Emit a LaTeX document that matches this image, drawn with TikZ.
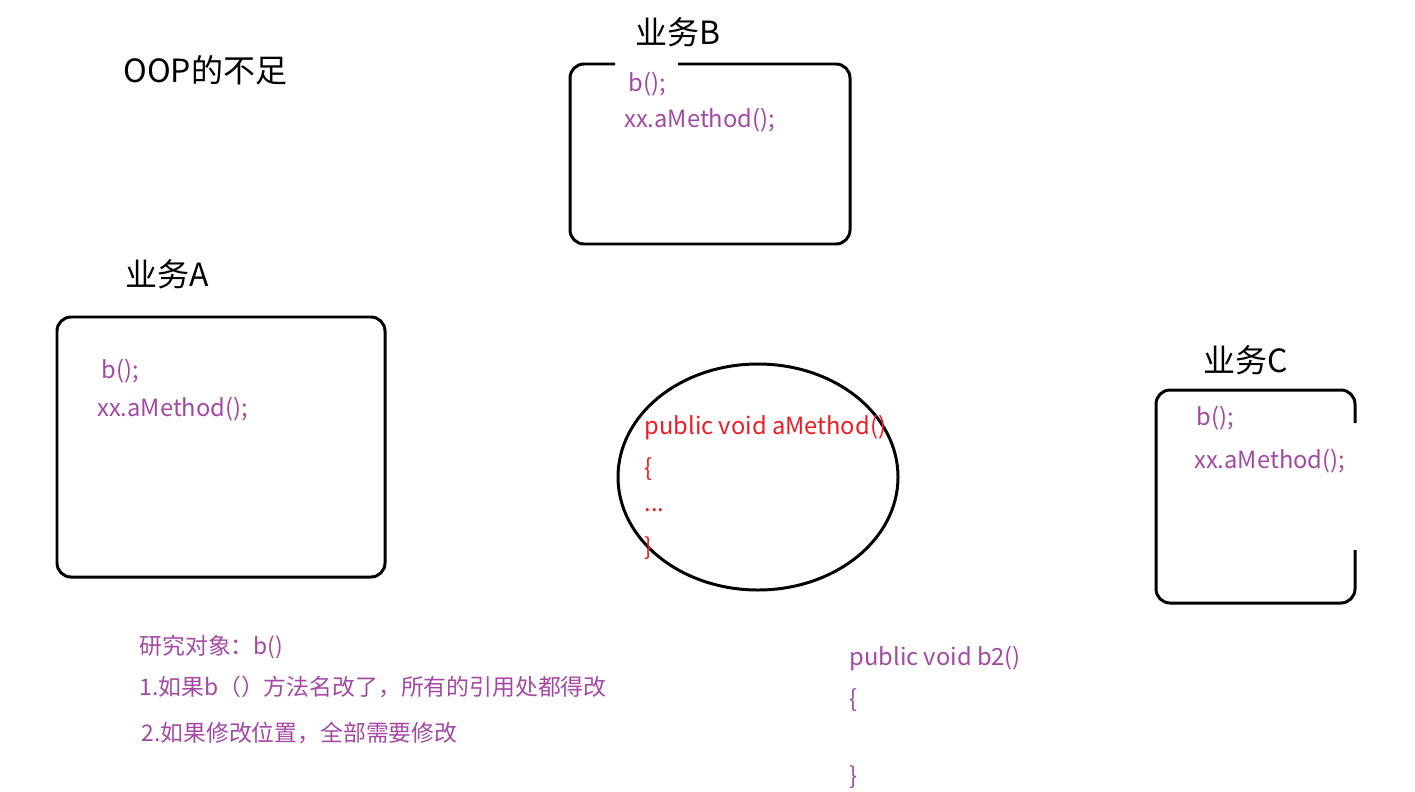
\documentclass[tikz,border=0pt]{standalone}
\usepackage{fontspec}
\setmainfont{Noto Sans CJK SC}
\usepackage{xcolor}
\definecolor{codepurple}{HTML}{A349A4}
\definecolor{codered}{HTML}{ED1C24}
\usetikzlibrary{positioning}

\begin{document}
\begin{tikzpicture}[x=0.02cm,y=-0.02cm,line width=1.7pt]
  \tikzstyle{title}=[anchor=west,inner sep=0pt,font=\fontsize{18.2}{20}\selectfont,text=black]
  \tikzstyle{note}=[anchor=west,inner sep=0pt,font=\fontsize{13}{15}\selectfont,text=codepurple]
  \tikzstyle{code}=[note,font=\fontsize{13.5}{15}\selectfont]
  \tikzstyle{redcode}=[code,text=codered]
  \tikzstyle{box}=[draw=black,rounded corners=8pt]

  \useasboundingbox (0,0) rectangle (1415,791);

  \node[title] (oop) at (122,70) {OOP的不足};

  % business B
  \node[title] (titleB) at (634,32) {业务B};
  \coordinate (B1) at (570,64);
  \coordinate (B2) at (850,244);
  \draw[box] (678,64) -- (B2 |- B1) -- (B2) -- (B1 |- B2) -- (B1) -- (615,64);
  \node[code] (bB)  at (627,84)  {b();};
  \node[code] (xxB) at (623,120) {xx.aMethod();};

  % business A
  \node[title] (titleA) at (124,274) {业务A};
  \coordinate (A1) at (57,317);
  \coordinate (A2) at (385,577);
  \draw[box] (A1) rectangle (A2);
  \node[code] (bA)  at (100,371) {b();};
  \node[code] (xxA) at (96,409)  {xx.aMethod();};

  % business C
  \node[title] (titleC) at (1202,360) {业务C};
  \coordinate (C1) at (1156,390);
  \coordinate (C2) at (1355,603);
  \draw[box] (1355,550) -- (C2) -- (C1 |- C2) -- (C1) -- (C2 |- C1) -- (1355,423);
  \node[code] (bC)  at (1195,418) {b();};
  \node[code] (xxC) at (1193,461) {xx.aMethod();};

  % shared method
  \draw (758,477) ellipse [x radius=140, y radius=113];
  \node[redcode] (am)  at (643,428) {public void aMethod()};
  \node[redcode] (am1) at (643,469) {\{};
  \node[redcode] (am2) at (643,510) {...};
  \node[redcode] (am3) at (643,548) {\}};

  % notes
  \node[note] (n0) at (138,647) {研究对象：b()};
  \node[note] (n1) at (138,687) {1.如果b（）方法名改了，所有的引用处都得改};
  \node[note] (n2) at (140,733) {2.如果修改位置，全部需要修改};

  \node[code] (b2)  at (848,659) {public void b2()};
  \node[code] (b21) at (848,700) {\{};
  \node[code] (b22) at (848,777) {\}};
\end{tikzpicture}
\end{document}
